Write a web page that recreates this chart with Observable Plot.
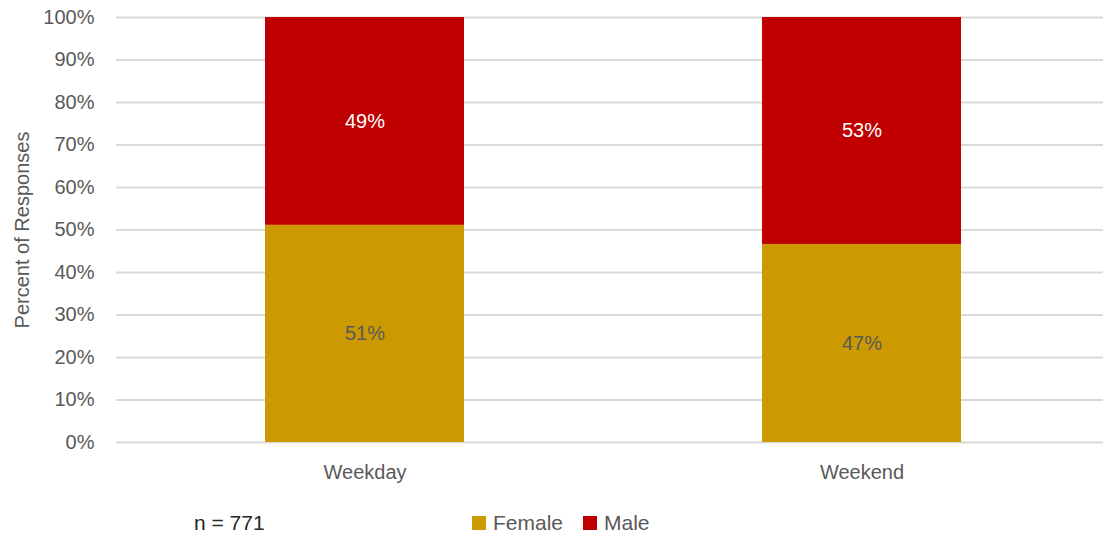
<!DOCTYPE html>
<html>
<head>
<meta charset="utf-8">
<script src="https://cdn.jsdelivr.net/npm/d3@7"></script>
<script src="https://cdn.jsdelivr.net/npm/@observablehq/plot@0.6"></script>
<style>
  html, body { margin: 0; padding: 0; background: #fff; }
  #wrap { width: 1104px; position: relative; font-family: "Liberation Sans Narrow", "Liberation Sans", Arial, sans-serif; }
  #legend { position: relative; height: 44px; width: 1104px; }
  #legend .n { position: absolute; left: 194px; top: 16px; font-size: 21px; color: #262626; }
  #legend .item { position: absolute; top: 16px; font-size: 21px; color: #595959; display: flex; align-items: center; }
  #legend .sw { display: inline-block; width: 14px; height: 14px; margin-right: 7px; }
</style>
</head>
<body>
<div id="wrap">
  <div id="chart"></div>
  <div id="legend"></div>
</div>
<script>
const categories = ["Weekday", "Weekend"];
const series = ["Female", "Male"];
const femaleValues = [51.1, 46.6];
const maleValues = [48.9, 53.4];
const yTicks = [0, 10, 20, 30, 40, 50, 60, 70, 80, 90, 100];
const colors = ["#CC9900", "#C00000"];
const labelColors = ["#595959", "#FFFFFF"];
const nText = "n = 771";

const rows = [];
categories.forEach((c, i) => {
  rows.push({day: c, sex: "Female", value: femaleValues[i]});
  rows.push({day: c, sex: "Male", value: maleValues[i]});
});

const font = '"Liberation Sans Narrow", "Liberation Sans", Arial, sans-serif';

const chart = Plot.plot({
  width: 1104,
  height: 495,
  marginTop: 17,
  marginBottom: 53,
  marginLeft: 116,
  marginRight: 1,
  style: {fontFamily: font, fontSize: "20px", color: "#595959", background: "#fff"},
  x: {domain: categories, range: [116, 1110], paddingInner: 0.6, paddingOuter: 0.3, label: null},
  y: {domain: [0, 100], label: null},
  color: {domain: series, range: colors},
  marks: [
    Plot.gridY(yTicks, {stroke: "#D9D9D9", strokeOpacity: 1, strokeWidth: 2}),
    Plot.barY(rows, Plot.stackY({x: "day", y: "value", fill: "sex", order: series})),
    Plot.text(rows, Plot.stackY({
      x: "day", y: "value", order: series,
      text: d => Math.round(d.value) + "%",
      fill: d => labelColors[series.indexOf(d.sex)],
      fontSize: 20
    })),
    Plot.axisY(yTicks, {
      tickSize: 0, tickPadding: 22, tickFormat: d => d + "%", fontSize: 20, fill: "#595959",
      label: "Percent of Responses", labelAnchor: "center", labelArrow: "none", labelOffset: 102
    }),
    Plot.axisX({tickSize: 0, tickPadding: 22, fontSize: 20, fill: "#595959", label: null})
  ]
});
document.getElementById("chart").appendChild(chart);

const legend = document.getElementById("legend");
const n = document.createElement("span");
n.className = "n";
n.textContent = nText;
legend.appendChild(n);
const lefts = [472, 583];
series.forEach((s, i) => {
  const it = document.createElement("span");
  it.className = "item";
  it.style.left = lefts[i] + "px";
  const sw = document.createElement("span");
  sw.className = "sw";
  sw.style.background = colors[i];
  it.appendChild(sw);
  it.appendChild(document.createTextNode(s));
  legend.appendChild(it);
});
</script>
</body>
</html>
